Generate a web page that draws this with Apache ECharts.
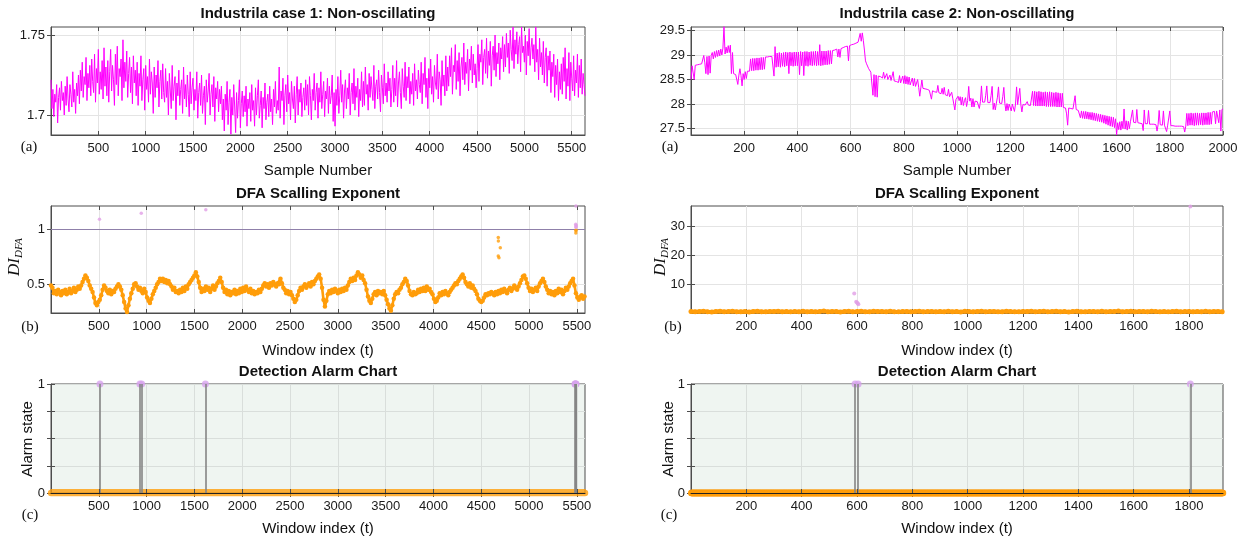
<!DOCTYPE html>
<html>
<head>
<meta charset="utf-8">
<script src="https://cdn.jsdelivr.net/npm/echarts@6/dist/echarts.min.js"></script>
<style>
html,body{margin:0;padding:0;background:#fff}
#chart{width:1245px;height:538px}
</style>
</head>
<body>
<div id="chart"></div>
<script>
// ---------- Case 1 process variable (one reading every 10 samples) ----------
const caseOneStep = 10;
const caseOneSignal = [
  1.722,1.704,1.716,1.699,1.713,1.708,1.719,1.695,1.711,1.717,1.703,1.721,1.709,1.714,1.700,1.718,1.706,1.724,1.710,1.702,1.719,1.713,1.705,1.727,1.708,1.716,1.701,1.720,1.712,1.725,
  1.707,1.728,1.715,1.733,1.711,1.724,1.719,1.736,1.709,1.726,1.717,1.731,1.712,1.735,1.721,1.714,1.738,1.708,1.729,1.720,1.741,1.713,1.727,1.716,1.734,1.710,1.742,1.718,1.730,1.712,
  1.734,1.708,1.727,1.741,1.715,1.731,1.722,1.706,1.738,1.719,1.743,1.712,1.729,1.724,1.735,1.709,1.747,1.717,1.733,1.721,1.740,1.711,1.726,1.736,1.714,1.730,1.707,1.737,1.720,1.728,
  1.712,1.733,1.706,1.726,1.718,1.737,1.709,1.722,1.729,1.703,1.731,1.716,1.724,1.708,1.735,1.713,1.727,1.720,1.701,1.730,1.711,1.725,1.717,1.734,1.705,1.721,1.728,1.710,1.732,1.714,
  1.708,1.729,1.711,1.721,1.700,1.726,1.715,1.704,1.731,1.709,1.718,1.724,1.697,1.720,1.712,1.728,1.706,1.716,1.722,1.701,1.730,1.710,1.719,1.705,1.725,1.713,1.699,1.727,1.707,1.717,
  1.723,1.703,1.716,1.709,1.727,1.698,1.714,1.720,1.706,1.725,1.701,1.712,1.718,1.694,1.722,1.708,1.715,1.726,1.700,1.713,1.719,1.705,1.724,1.696,1.717,1.710,1.721,1.702,1.716,1.707,
  1.718,1.697,1.710,1.690,1.713,1.703,1.721,1.694,1.708,1.716,1.688,1.711,1.700,1.719,1.705,1.689,1.714,1.698,1.709,1.722,1.692,1.707,1.715,1.699,1.712,1.702,1.718,1.693,1.710,1.704,
  1.714,1.696,1.719,1.703,1.709,1.693,1.717,1.700,1.712,1.722,1.698,1.706,1.715,1.692,1.711,1.704,1.720,1.697,1.708,1.713,1.699,1.718,1.702,1.710,1.694,1.716,1.705,1.721,1.701,1.709,
  1.703,1.730,1.698,1.715,1.709,1.723,1.694,1.712,1.719,1.702,1.725,1.707,1.714,1.697,1.721,1.710,1.704,1.718,1.695,1.713,1.724,1.700,1.716,1.708,1.720,1.699,1.711,1.717,1.703,1.722,
  1.706,1.719,1.700,1.724,1.712,1.697,1.716,1.709,1.726,1.703,1.714,1.720,1.698,1.717,1.708,1.727,1.704,1.713,1.721,1.699,1.715,1.710,1.723,1.701,1.718,1.707,1.712,1.725,1.696,1.714,
  1.693,1.716,1.706,1.724,1.701,1.712,1.728,1.708,1.719,1.698,1.715,1.722,1.704,1.717,1.710,1.726,1.700,1.714,1.720,1.707,1.729,1.703,1.718,1.711,1.723,1.699,1.716,1.709,1.727,1.705,
  1.721,1.706,1.730,1.713,1.719,1.703,1.726,1.711,1.724,1.716,1.709,1.731,1.704,1.718,1.722,1.710,1.728,1.714,1.702,1.725,1.717,1.707,1.732,1.712,1.720,1.708,1.727,1.715,1.723,1.705,
  1.716,1.731,1.708,1.723,1.712,1.734,1.705,1.720,1.727,1.714,1.704,1.729,1.718,1.711,1.733,1.709,1.724,1.717,1.730,1.707,1.721,1.713,1.726,1.706,1.732,1.715,1.722,1.710,1.728,1.719,
  1.714,1.733,1.707,1.726,1.719,1.736,1.711,1.723,1.704,1.729,1.717,1.735,1.713,1.724,1.708,1.731,1.720,1.716,1.738,1.710,1.727,1.722,1.706,1.734,1.718,1.725,1.712,1.737,1.715,1.730,
  1.718,1.737,1.724,1.742,1.713,1.731,1.727,1.744,1.716,1.734,1.721,1.739,1.712,1.730,1.736,1.722,1.745,1.719,1.733,1.726,1.741,1.715,1.735,1.728,1.743,1.720,1.738,1.725,1.732,1.717,
  1.729,1.744,1.721,1.738,1.733,1.747,1.719,1.736,1.741,1.726,1.748,1.723,1.740,1.731,1.746,1.718,1.737,1.743,1.728,1.750,1.724,1.739,1.732,1.745,1.722,1.742,1.735,1.749,1.727,1.744,
  1.730,1.751,1.736,1.745,1.726,1.753,1.741,1.734,1.755,1.729,1.747,1.738,1.752,1.732,1.744,1.749,1.727,1.755,1.739,1.743,1.733,1.750,1.725,1.746,1.737,1.754,1.731,1.742,1.748,1.735,
  1.744,1.727,1.755,1.733,1.741,1.722,1.748,1.730,1.739,1.725,1.746,1.720,1.736,1.742,1.718,1.737,1.728,1.740,1.714,1.733,1.724,1.738,1.711,1.731,1.719,1.735,1.709,1.727,1.716,1.732,
  1.713,1.736,1.721,1.742,1.710,1.729,1.718,1.739,1.709,1.733,1.723,1.715,1.737,1.712,1.728,1.720,1.738,1.711,1.731,1.717,1.735,1.713,1.726,1.719,1.712
];

// ---------- Case 2 process variable (one reading every 4 samples) ----------
const caseTwoStep = 4;
const caseTwoSignal = [
  28.50,28.78,28.78,28.50,28.79,28.79,28.80,28.80,28.81,28.81,28.82,28.83,28.99,28.84,28.62,28.97,28.60,28.98,28.63,28.99,29.05,28.92,29.07,28.95,29.09,
  28.97,29.10,28.98,29.12,29.00,29.14,29.58,29.02,29.16,29.04,29.19,29.05,29.20,28.62,29.05,28.62,28.61,28.60,28.60,28.40,28.59,28.72,28.58,28.37,28.62,
  28.50,28.66,28.52,28.67,28.67,28.67,28.92,28.68,28.93,28.68,28.93,28.69,28.94,28.69,28.94,28.70,28.95,28.70,28.95,28.71,28.96,28.96,28.96,28.97,28.97,
  28.97,28.97,28.98,28.57,29.17,28.75,29.04,28.76,29.05,28.75,29.04,28.77,29.05,28.76,29.06,28.78,29.05,28.62,29.06,28.78,29.05,28.77,29.06,28.78,29.06,
  28.78,29.06,28.60,29.07,28.78,29.06,28.58,29.07,28.78,29.07,28.77,29.06,28.79,29.07,28.78,29.07,28.79,29.08,28.78,29.07,28.79,29.21,28.78,29.08,28.79,
  29.08,28.80,29.08,28.80,29.09,28.81,29.09,28.82,29.09,29.10,29.10,29.11,29.12,28.96,29.12,28.95,29.13,29.14,29.15,29.16,29.17,29.17,29.18,28.88,29.19,
  29.20,29.21,29.21,29.22,29.23,29.24,29.25,29.26,29.27,29.44,29.28,29.45,29.29,29.10,28.88,28.82,28.78,28.72,28.68,28.65,28.62,28.18,28.60,28.15,28.59,
  28.14,28.57,28.55,28.56,28.54,28.53,28.65,28.52,28.51,28.62,28.50,28.49,28.59,28.48,28.48,28.66,28.47,28.46,28.46,28.45,28.44,28.58,28.43,28.42,28.57,
  28.42,28.58,28.41,28.56,28.40,28.55,28.39,28.38,28.53,28.37,28.52,28.36,28.35,28.50,28.34,28.16,28.33,28.49,28.32,28.32,28.31,28.30,28.30,28.29,28.28,
  28.28,28.10,28.27,28.26,28.25,28.24,28.24,28.38,28.23,28.22,28.21,28.32,28.20,28.34,28.19,28.18,28.17,28.30,28.15,28.14,28.24,28.12,28.10,27.88,28.09,
  28.08,28.16,28.07,28.15,27.98,28.14,27.97,28.07,28.13,27.95,28.07,28.36,28.06,28.12,27.94,28.11,27.94,28.06,28.06,28.05,28.05,27.91,28.05,28.37,28.04,
  28.04,28.04,28.18,28.37,28.03,28.03,28.03,28.17,28.36,27.89,28.02,27.88,28.02,28.14,28.35,28.02,28.01,28.01,28.15,28.34,28.01,27.86,28.01,27.87,28.00,
  28.00,27.86,28.00,27.99,27.85,28.00,28.35,27.99,27.99,28.32,27.99,27.84,27.99,27.98,27.98,27.98,28.05,27.98,27.97,27.97,27.97,28.26,27.97,28.26,27.96,
  28.25,27.96,28.26,27.96,28.25,27.96,28.24,27.96,28.25,27.95,28.24,27.95,28.25,27.95,28.24,27.95,28.23,27.95,28.24,27.94,28.23,27.94,28.22,27.94,28.22,
  27.93,27.93,27.92,27.80,27.57,27.92,27.91,27.91,27.90,27.90,27.89,28.17,27.89,27.88,27.87,27.86,27.72,27.86,27.71,27.85,27.70,27.85,27.70,27.84,27.69,
  27.83,27.68,27.83,27.67,27.82,27.66,27.81,27.65,27.80,27.64,27.79,27.63,27.78,27.61,27.77,27.59,27.76,27.57,27.75,27.55,27.74,27.54,27.73,27.52,27.70,
  27.37,27.62,27.48,27.64,27.47,27.65,27.50,27.90,27.49,27.66,27.47,27.65,27.50,27.64,27.63,27.88,27.63,27.62,27.62,27.89,27.62,27.61,27.61,27.61,27.60,
  27.46,27.88,27.60,27.60,27.60,27.87,27.59,27.59,27.59,27.59,27.59,27.58,27.58,27.45,27.58,27.87,27.58,27.58,27.57,27.86,27.57,27.57,27.44,27.57,27.57,
  27.86,27.56,27.56,27.56,27.56,27.55,27.55,27.55,27.55,27.55,27.55,27.55,27.54,27.54,27.43,27.55,27.81,27.56,27.81,27.57,27.82,27.57,27.81,27.56,27.82,
  27.57,27.82,27.57,27.81,27.58,27.82,27.57,27.82,27.58,27.82,27.58,27.83,27.58,27.83,27.59,27.84,27.84,27.85,27.60,27.86,27.87,27.62,27.88,27.45,27.89,
  27.90
];

// ---------- DFA scaling exponent, case 1 (one window every 15) ----------
const dfaOneStep = 15;
const dfaOne = [
  0.49,0.47,0.42,0.44,0.41,0.45,0.43,0.40,0.44,0.42,
  0.45,0.41,0.43,0.46,0.42,0.44,0.47,0.43,0.45,0.48,
  0.46,0.49,0.52,0.55,0.58,0.56,0.53,0.49,0.46,0.43,
  0.38,0.33,0.31,0.34,0.36,0.40,0.45,0.49,0.47,0.44,
  0.42,0.45,0.41,0.44,0.43,0.46,0.48,0.50,0.48,0.45,
  0.40,0.34,0.28,0.25,0.31,0.37,0.42,0.46,0.50,0.51,
  0.48,0.45,0.47,0.44,0.42,0.46,0.43,0.38,0.35,0.33,
  0.37,0.41,0.44,0.47,0.50,0.52,0.55,0.53,0.55,0.52,
  0.54,0.51,0.53,0.50,0.48,0.45,0.47,0.43,0.44,0.42,
  0.45,0.43,0.47,0.44,0.48,0.46,0.50,0.52,0.54,0.56,
  0.58,0.61,0.57,0.52,0.47,0.43,0.46,0.44,0.48,0.45,
  0.47,0.43,0.46,0.49,0.45,0.48,0.51,0.53,0.56,0.52,
  0.47,0.43,0.45,0.41,0.44,0.40,0.43,0.42,0.45,0.41,
  0.44,0.42,0.46,0.43,0.47,0.44,0.48,0.45,0.43,0.46,
  0.42,0.44,0.41,0.43,0.42,0.45,0.43,0.46,0.49,0.51,
  0.48,0.50,0.47,0.51,0.49,0.52,0.50,0.48,0.51,0.50,
  0.55,0.51,0.47,0.45,0.42,0.44,0.41,0.43,0.40,0.37,
  0.34,0.36,0.40,0.44,0.47,0.45,0.48,0.50,0.47,0.49,
  0.51,0.48,0.52,0.50,0.53,0.55,0.57,0.59,0.55,0.47,
  0.36,0.30,0.35,0.41,0.44,0.42,0.45,0.43,0.46,0.44,
  0.42,0.45,0.43,0.46,0.44,0.47,0.45,0.49,0.52,0.55,
  0.53,0.56,0.54,0.58,0.61,0.59,0.56,0.58,0.54,0.51,
  0.45,0.39,0.35,0.33,0.37,0.41,0.43,0.40,0.44,0.42,
  0.43,0.41,0.44,0.40,0.36,0.32,0.28,0.26,0.31,0.37,
  0.41,0.43,0.42,0.45,0.47,0.50,0.52,0.55,0.53,0.49,
  0.44,0.41,0.40,0.43,0.41,0.42,0.45,0.43,0.46,0.44,
  0.47,0.44,0.48,0.45,0.46,0.43,0.41,0.37,0.34,0.35,
  0.38,0.42,0.40,0.43,0.41,0.44,0.42,0.40,0.43,0.45,
  0.47,0.49,0.51,0.50,0.53,0.55,0.57,0.59,0.56,0.52,
  0.50,0.48,0.51,0.47,0.49,0.46,0.44,0.41,0.37,0.35,
  0.34,0.35,0.38,0.41,0.40,0.42,0.41,0.43,0.42,0.40,
  0.43,0.41,0.44,0.42,0.45,0.43,0.46,0.44,0.42,0.45,
  0.47,0.44,0.46,0.49,0.47,0.45,0.48,0.51,0.54,0.57,
  0.58,0.55,0.51,0.47,0.44,0.46,0.43,0.45,0.47,0.44,
  0.48,0.51,0.53,0.55,0.52,0.48,0.45,0.42,0.44,0.41,
  0.43,0.40,0.44,0.42,0.46,0.43,0.45,0.41,0.44,0.47,
  0.45,0.48,0.51,0.53,0.55,0.49,0.42,0.38,0.36,0.39,
  0.40,0.37,0.39
];
// isolated windows of case 1: [window, exponent]
const dfaOneHighPoints = [[4678,0.924],[4679,0.893],[4699,0.832],[4678,0.756],[4685,0.741],[5490,0.985],[5489,0.965],[5491,0.992]];
const dfaOneAlarmPoints = [[507,1.09],[944,1.145],[1619,1.175],[5490,1.21],[5488,1.045],[5491,1.035],[5493,1.025],[5489,1.018]];

// ---------- DFA scaling exponent, case 2 (one window every 15) ----------
const dfaTwoStep = 15;
const dfaTwo = [
  0.55,0.42,0.50,0.61,0.46,0.38,0.52,0.57,0.44,0.49,
  0.58,0.40,0.47,0.53,0.36,0.50,0.62,0.45,0.41,0.54,
  0.48,0.59,0.43,0.51,0.39,0.56,0.47,0.60,0.42,0.50,
  0.45,0.53,0.66,0.41,0.49,0.55,0.38,0.52,0.58,0.44,
  0.51,0.63,0.46,0.40,0.57,0.48,0.54,0.43,0.61,0.47,
  0.39,0.52,0.56,0.45,0.50,0.64,0.42,0.48,0.55,0.41,
  0.53,0.47,0.60,0.44,0.51,0.37,0.58,0.49,0.45,0.56,
  0.62,0.43,0.50,0.54,0.40,0.47,0.59,0.52,0.46,0.41,
  0.55,0.49,0.63,0.44,0.51,0.57,0.42,0.48,0.60,0.45,
  0.50,0.38,0.54,0.61,0.47,0.43,0.56,0.52,0.40,0.58,
  0.46,0.53,0.49,0.65,0.44,0.51,0.57,0.41,0.48,0.55,
  0.43,0.60,0.50,0.46,0.54,0.39,0.52,0.58,0.45,0.49,
  0.56,0.42,0.51,0.47,0.62,0.44,0.50,0.53,0.46
];
const dfaTwoAlarmPoints = [[590,6.7],[597,3.9],[600,3.6],[603,3.3],[605,3.0],[1805,36.8]];

// ---------- alarm windows ----------
const dfaThreshold = 1;
const windowCountOne = 5585;
const windowCountTwo = 1923;
const alarmWindowsOne = [512, 930, 948, 1615, 5480, 5484, 5488, 5492];
const alarmWindowsTwo = [593, 604, 1805];

// ---------- tick positions ----------
const ticksBy500 = [500,1000,1500,2000,2500,3000,3500,4000,4500,5000,5500];
const ticksBy200 = [200,400,600,800,1000,1200,1400,1600,1800];
const ticksBy200To2000 = [200,400,600,800,1000,1200,1400,1600,1800,2000];
const caseOneLevels = [1.7, 1.75];
const caseTwoLevels = [27.5, 28, 28.5, 29, 29.5];
const dfaOneLevels = [0.5, 1];
const dfaTwoLevels = [10, 20, 30];
const alarmLevels = [0, 0.25, 0.5, 0.75, 1];

// ---------- styling ----------
const SANS = "'Liberation Sans',Arial,sans-serif";
const SERIF = "'Liberation Serif','DejaVu Serif',serif";
const MAGENTA = '#ff00ff';
const ORANGE = '#ff9d0a';
const LILAC = '#e19fe6';
const ALARM_DOT = '#d7a3ee';
const FRAME = '#4d4d4d';
const GRIDLINE = '#e4e4e4';

const panels = [
  { rect: {left: 51,  top: 27,  width: 534, height: 108}, x: [0, 5640, ticksBy500], y: [1.6875, 1.755, caseOneLevels] },
  { rect: {left: 691, top: 27,  width: 532, height: 108}, x: [0, 2000, ticksBy200To2000], y: [27.37, 29.57, caseTwoLevels] },
  { rect: {left: 51,  top: 206, width: 534, height: 107}, x: [0, 5585, ticksBy500], y: [0.24, 1.21, dfaOneLevels] },
  { rect: {left: 691, top: 206, width: 532, height: 107}, x: [0, 1923, ticksBy200], y: [0, 37, dfaTwoLevels] },
  { rect: {left: 51,  top: 384, width: 534, height: 109}, x: [0, 5585, ticksBy500], y: [0, 1, alarmLevels], alarm: true },
  { rect: {left: 691, top: 384, width: 532, height: 109}, x: [0, 1923, ticksBy200], y: [0, 1, alarmLevels], alarm: true }
];

const grids = [], xAxes = [], yAxes = [];
const labelStyle = { fontFamily: SANS, fontSize: 13, color: '#1a1a1a' };
const tickLine = { color: FRAME, width: 1 };
const plain = v => String(v);

panels.forEach((p, k) => {
  grids.push(Object.assign({
    show: true, borderColor: FRAME, borderWidth: 1,
    backgroundColor: p.alarm ? '#eff5f1' : '#ffffff', containLabel: false
  }, p.rect));
  const gl = { color: p.alarm ? '#d9dedb' : GRIDLINE, width: 1 };
  xAxes.push({
    gridIndex: k, type: 'value', position: 'bottom', min: p.x[0], max: p.x[1], z: p.alarm ? 5 : 0,
    axisLine: { show: true, onZero: false, lineStyle: { color: p.alarm ? '#222' : FRAME, width: 1 } },
    axisTick: { show: true, inside: true, length: 4, customValues: p.x[2], lineStyle: tickLine },
    axisLabel: Object.assign({ customValues: p.x[2], margin: 7, formatter: plain }, labelStyle),
    splitLine: { show: true, lineStyle: gl }
  });
  yAxes.push({
    gridIndex: k, type: 'value', position: 'left', min: p.y[0], max: p.y[1],
    axisLine: { show: true, onZero: false, lineStyle: { color: FRAME, width: 1 } },
    axisTick: { show: true, inside: true, length: 4, customValues: p.y[2], lineStyle: tickLine },
    axisLabel: Object.assign({
      customValues: p.y[2], margin: 6,
      formatter: p.alarm ? (v => (v === 0 || v === 1) ? String(v) : '') : plain
    }, labelStyle),
    splitLine: { show: true, lineStyle: gl }
  });
});
// mirrored tick marks on the top and right edges of every box
panels.forEach((p, k) => {
  xAxes.push({
    gridIndex: k, type: 'value', position: 'top', min: p.x[0], max: p.x[1],
    axisLine: { show: false }, axisLabel: { show: false }, splitLine: { show: false },
    axisTick: { show: true, inside: true, length: 4, customValues: p.x[2], lineStyle: tickLine }
  });
  yAxes.push({
    gridIndex: k, type: 'value', position: 'right', min: p.y[0], max: p.y[1],
    axisLine: { show: false }, axisLabel: { show: false }, splitLine: { show: false },
    axisTick: { show: true, inside: true, length: 4, customValues: p.y[2], lineStyle: tickLine }
  });
});

const onSteps = (values, step) => values.map((v, i) => [i * step, v]);
const zeroStates = (count, alarms) => {
  const pts = [];
  for (let w = 1; w <= count; w++) if (alarms.indexOf(w) < 0) pts.push([w, 0]);
  return pts;
};
const thresholdLine = {
  silent: true, symbol: 'none', label: { show: false }, z: 1,
  lineStyle: { color: '#8f80aa', width: 1, type: 'solid' }, data: [{ yAxis: dfaThreshold }]
};

const series = [
  { type: 'line', xAxisIndex: 0, yAxisIndex: 0, data: onSteps(caseOneSignal, caseOneStep),
    showSymbol: false, lineStyle: { color: MAGENTA, width: 1 }, itemStyle: { color: MAGENTA } },
  { type: 'line', xAxisIndex: 1, yAxisIndex: 1, data: onSteps(caseTwoSignal, caseTwoStep),
    showSymbol: false, lineStyle: { color: MAGENTA, width: 1 }, itemStyle: { color: MAGENTA } },

  { type: 'line', xAxisIndex: 2, yAxisIndex: 2, data: [], markLine: thresholdLine },
  { type: 'line', xAxisIndex: 2, yAxisIndex: 2, data: onSteps(dfaOne, dfaOneStep),
    symbol: 'circle', symbolSize: 4.5, showSymbol: true,
    lineStyle: { color: ORANGE, width: 2.6 }, itemStyle: { color: ORANGE }, z: 3 },
  { type: 'scatter', xAxisIndex: 2, yAxisIndex: 2, data: dfaOneHighPoints, symbolSize: 3.5, itemStyle: { color: ORANGE }, z: 4 },
  { type: 'scatter', xAxisIndex: 2, yAxisIndex: 2, data: dfaOneAlarmPoints, symbolSize: 3.5, itemStyle: { color: LILAC }, clip: false, z: 4 },

  { type: 'line', xAxisIndex: 3, yAxisIndex: 3, data: [], markLine: thresholdLine },
  { type: 'line', xAxisIndex: 3, yAxisIndex: 3, data: onSteps(dfaTwo, dfaTwoStep),
    symbol: 'circle', symbolSize: 5, showSymbol: true, clip: false, z: 6,
    lineStyle: { color: ORANGE, width: 4 }, itemStyle: { color: ORANGE } },
  { type: 'scatter', xAxisIndex: 3, yAxisIndex: 3, data: dfaTwoAlarmPoints, symbolSize: 4, itemStyle: { color: LILAC }, clip: false, z: 7 }
];

[[4, windowCountOne, alarmWindowsOne], [5, windowCountTwo, alarmWindowsTwo]].forEach(([k, count, alarms]) => {
  series.push({
    type: 'scatter', xAxisIndex: k, yAxisIndex: k, data: zeroStates(count, alarms),
    symbolSize: 6.5, itemStyle: { color: ORANGE }, clip: false, large: true
  });
  series.push({
    type: 'scatter', xAxisIndex: k, yAxisIndex: k, data: alarms.map(w => [w, 1]),
    symbolSize: 7, itemStyle: { color: ALARM_DOT }, clip: false, z: 4,
    markLine: { silent: true, symbol: 'none', label: { show: false },
      lineStyle: { color: '#858585', width: 1.6, type: 'solid' },
      data: alarms.map(w => ({ xAxis: w })) }
  });
});

// titles, axis names and panel letters
const txt = (text, x, y, font, extra) => Object.assign({
  type: 'text', x, y, silent: true,
  style: { text, font, fill: '#111', align: 'center', verticalAlign: 'middle' }
}, extra || {});
const TITLE = "bold 15px " + SANS;
const NAME = "15px " + SANS;
const LETTER = "15px " + SERIF;
const rot = { rotation: Math.PI / 2 };

const graphic = [
  txt('Industrila case 1: Non-oscillating', 318, 14, TITLE),
  txt('Industrila case 2: Non-oscillating', 957, 14, TITLE),
  txt('DFA Scalling Exponent', 318, 194, TITLE),
  txt('DFA Scalling Exponent', 957, 194, TITLE),
  txt('Detection Alarm Chart', 318, 372, TITLE),
  txt('Detection Alarm Chart', 957, 372, TITLE),
  txt('Sample Number', 318, 171, NAME),
  txt('Sample Number', 957, 171, NAME),
  txt('Window index (t)', 318, 351, NAME),
  txt('Window index (t)', 957, 351, NAME),
  txt('Window index (t)', 318, 529, NAME),
  txt('Window index (t)', 957, 529, NAME),
  txt('(a)', 29, 147, LETTER), txt('(a)', 670, 147, LETTER),
  txt('(b)', 30, 327, LETTER), txt('(b)', 673, 327, LETTER),
  txt('(c)', 30, 515, LETTER), txt('(c)', 669, 515, LETTER),
  txt('DI', 15, 267, "italic 17px " + SERIF, rot),
  txt('DFA', 19, 248, "italic 11px " + SERIF, rot),
  txt('DI', 661, 267, "italic 17px " + SERIF, rot),
  txt('DFA', 665, 248, "italic 11px " + SERIF, rot),
  txt('Alarm state', 28, 439, NAME, rot),
  txt('Alarm state', 669, 439, NAME, rot)
];

const chart = echarts.init(document.getElementById('chart'), null, { renderer: 'canvas' });
chart.setOption({
  animation: false,
  backgroundColor: '#ffffff',
  grid: grids,
  xAxis: xAxes,
  yAxis: yAxes,
  series: series,
  graphic: graphic
});
</script>
</body>
</html>
